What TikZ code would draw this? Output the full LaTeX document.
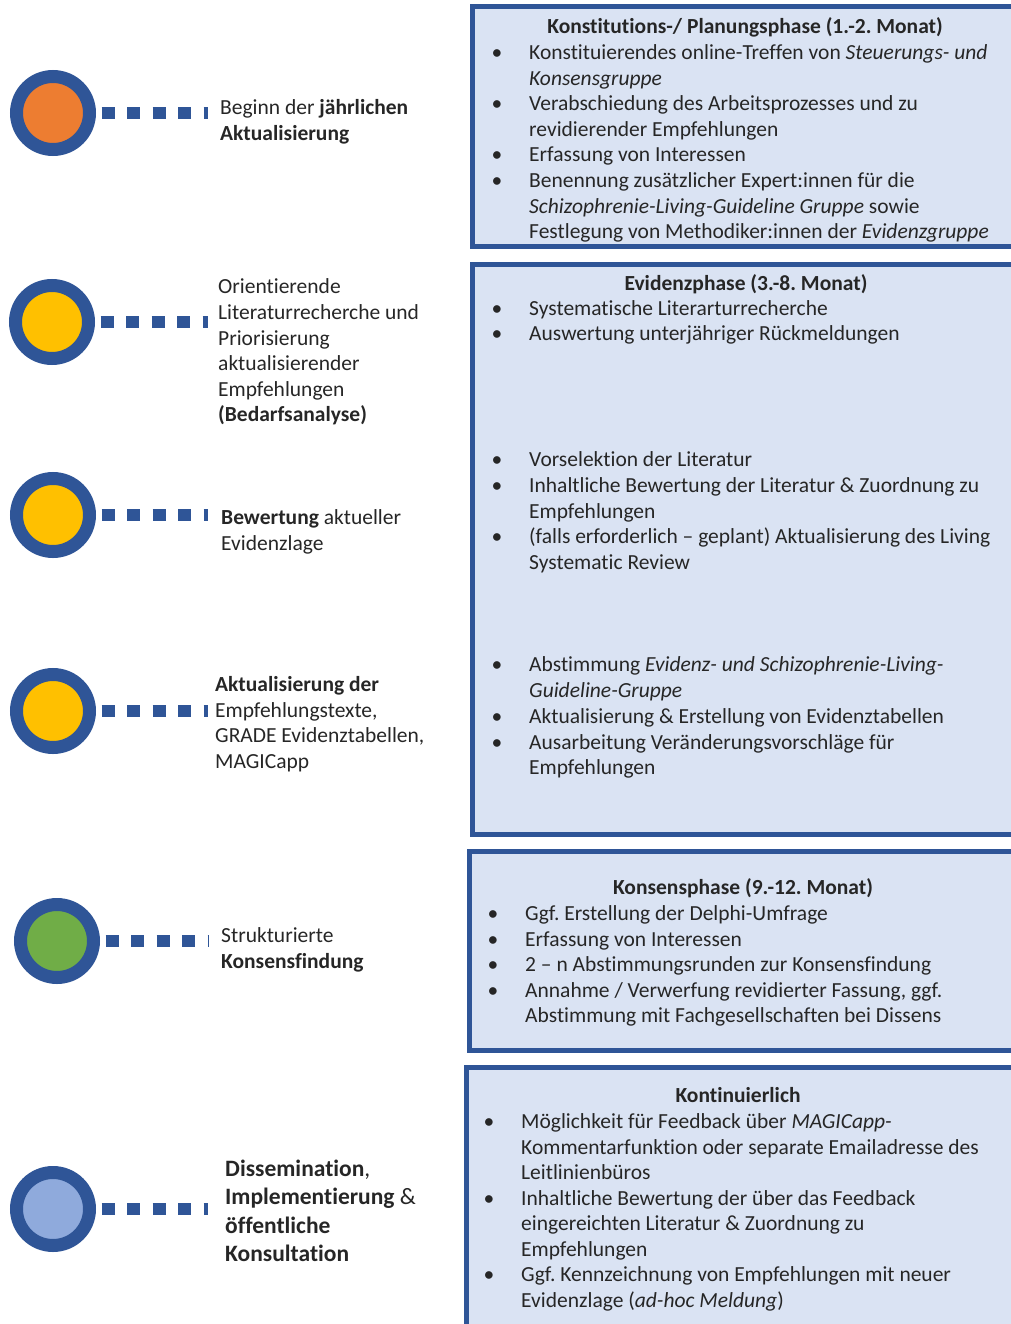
\documentclass[tikz,border=0pt]{standalone}
\usepackage{fontspec}
\setmainfont{Carlito}[Ligatures={NoCommon,NoContextual}]
\frenchspacing
\definecolor{dblue}{HTML}{2F5597}
\definecolor{boxfill}{HTML}{DAE3F3}
\definecolor{corange}{HTML}{ED7D31}
\definecolor{cyellow}{HTML}{FFC000}
\definecolor{cgreen}{HTML}{70AD47}
\definecolor{clblue}{HTML}{8FAADC}
\definecolor{txtc}{HTML}{262626}
\tikzset{
 phase/.style={draw=dblue, line width=5pt, fill=boxfill},
 ring/.style={circle, draw=dblue, line width=13pt, minimum size=73pt, inner sep=0pt},
 conn/.style={draw=dblue, line width=12pt, dash pattern=on 13pt off 12.5pt, shorten <=5.5pt},
 tx/.style={anchor=base west, inner sep=0pt, yshift=-3pt, text=txtc, font=\fontsize{21.5pt}{25.6pt}\selectfont},
 ttl/.style={tx, anchor=base, font=\fontsize{21.5pt}{25.6pt}\selectfont\bfseries},
 bul/.style={tx, anchor=base},
 big/.style={tx, font=\fontsize{23.5pt}{28.5pt}\selectfont},
}
\begin{document}
\begin{tikzpicture}[x=1pt,y=-1pt]
\useasboundingbox (0,0) rectangle (1011,1324);
\clip (0,0) rectangle (1011,1324);
% phase boxes
\path[phase] (472,7) rectangle (1040,247);
\path[phase] (472,264) rectangle (1040,834);
\path[phase] (469,851) rectangle (1040,1050);
\path[phase] (466,1067) rectangle (1040,1340);
% circles
\node[ring, fill=corange] (c1) at (53,113) {};
\node[ring, fill=cyellow] (c2) at (52,322) {};
\node[ring, fill=cyellow] (c3) at (53,515) {};
\node[ring, fill=cyellow] (c4) at (53,711) {};
\node[ring, fill=cgreen] (c5) at (57,941) {};
\node[ring, fill=clblue] (c6) at (53,1209) {};
% connector ends
\coordinate (e1) at (208,113);
\coordinate (e2) at (208,322);
\coordinate (e3) at (208,515);
\coordinate (e4) at (208,711);
\coordinate (e5) at (208,941);
\coordinate (e6) at (208,1209);
\foreach \i in {1,...,6}{\draw[conn] (c\i.east) -- (e\i);}
% left labels
\node[tx] (l1a) at (220,112) {Beginn der \textbf{jährlichen}};
\node[tx] (l1b) at (220,138) {\textbf{Aktualisierung}};
\node[tx] (l2a) at (218,290) {Orientierende};
\node[tx] (l2b) at (218,316) {Literaturrecherche und};
\node[tx] (l2c) at (218,342) {Priorisierung};
\node[tx] (l2d) at (218,367) {aktualisierender};
\node[tx] (l2e) at (218,393) {Empfehlungen};
\node[tx] (l2f) at (218,418) {\textbf{(Bedarfsanalyse)}};
\node[tx] (l3a) at (221,521) {\textbf{Bewertung} aktueller};
\node[tx] (l3b) at (221,547) {Evidenzlage};
\node[tx] (l4a) at (215,688) {\textbf{Aktualisierung der}};
\node[tx] (l4b) at (215,714) {Empfehlungstexte,};
\node[tx] (l4c) at (215,739) {GRADE Evidenztabellen,};
\node[tx] (l4d) at (215,765) {MAGICapp};
\node[tx] (l5a) at (221,939) {Strukturierte};
\node[tx] (l5b) at (221,965) {\textbf{Konsensfindung}};
\node[big] (l6a) at (225,1173) {\textbf{Dissemination},};
\node[big] (l6b) at (225,1201) {\textbf{Implementierung} \&};
\node[big] (l6c) at (225,1230) {\textbf{öffentliche}};
\node[big] (l6d) at (225,1258) {\textbf{Konsultation}};
% box 1
\node[ttl] (b1t) at (745,31) {Konstitutions-/ Planungsphase (1.-2. Monat)};
\node[bul] (b1u1) at (497,56.6) {•};
\node[tx] (b1a) at (529,56.6) {Konstituierendes online-Treffen von \textit{Steuerungs- und}};
\node[tx] (b1b) at (529,82.2) {\textit{Konsensgruppe}};
\node[bul] (b1u2) at (497,107.8) {•};
\node[tx] (b1c) at (529,107.8) {Verabschiedung des Arbeitsprozesses und zu};
\node[tx] (b1d) at (529,133.4) {revidierender Empfehlungen};
\node[bul] (b1u3) at (497,159) {•};
\node[tx] (b1e) at (529,159) {Erfassung von Interessen};
\node[bul] (b1u4) at (497,184.6) {•};
\node[tx] (b1f) at (529,184.6) {Benennung zusätzlicher Expert:innen für die};
\node[tx] (b1g) at (529,210.2) {\textit{Schizophrenie-Living-Guideline Gruppe} sowie};
\node[tx] (b1h) at (529,235.8) {Festlegung von Methodiker:innen der \textit{Evidenzgruppe}};
% box 2
\node[ttl] (b2t) at (746,287) {Evidenzphase (3.-8. Monat)};
\node[bul] (b2u1) at (497,312) {•};
\node[tx] (b2a) at (529,312) {Systematische Literarturrecherche};
\node[bul] (b2u2) at (497,337.5) {•};
\node[tx] (b2b) at (529,337.5) {Auswertung unterjähriger Rückmeldungen};
\node[bul] (b2u3) at (497,463) {•};
\node[tx] (b2c) at (529,463) {Vorselektion der Literatur};
\node[bul] (b2u4) at (497,489) {•};
\node[tx] (b2d) at (529,489) {Inhaltliche Bewertung der Literatur \& Zuordnung zu};
\node[tx] (b2e) at (529,515) {Empfehlungen};
\node[bul] (b2u5) at (497,540) {•};
\node[tx] (b2f) at (529,540) {(falls erforderlich – geplant) Aktualisierung des Living};
\node[tx] (b2g) at (529,566) {Systematic Review};
\node[bul] (b2u6) at (497,668) {•};
\node[tx] (b2h) at (529,668) {Abstimmung \textit{Evidenz- und Schizophrenie-Living-}};
\node[tx] (b2i) at (529,694) {\textit{Guideline-Gruppe}};
\node[bul] (b2u7) at (497,720) {•};
\node[tx] (b2j) at (529,720) {Aktualisierung \& Erstellung von Evidenztabellen};
\node[bul] (b2u8) at (497,746) {•};
\node[tx] (b2k) at (529,746) {Ausarbeitung Veränderungsvorschläge für};
\node[tx] (b2l) at (529,771) {Empfehlungen};
% box 3
\node[ttl] (b3t) at (743,891) {Konsensphase (9.-12. Monat)};
\node[bul] (b3u1) at (493,917) {•};
\node[tx] (b3a) at (525,917) {Ggf. Erstellung der Delphi-Umfrage};
\node[bul] (b3u2) at (493,943) {•};
\node[tx] (b3b) at (525,943) {Erfassung von Interessen};
\node[bul] (b3u3) at (493,968) {•};
\node[tx] (b3c) at (525,968) {2 – n Abstimmungsrunden zur Konsensfindung};
\node[bul] (b3u4) at (493,994) {•};
\node[tx] (b3d) at (525,994) {Annahme / Verwerfung revidierter Fassung, ggf.};
\node[tx] (b3e) at (525,1019) {Abstimmung mit Fachgesellschaften bei Dissens};
% box 4
\node[ttl] (b4t) at (738,1099) {Kontinuierlich};
\node[bul] (b4u1) at (489,1125) {•};
\node[tx] (b4a) at (521,1125) {Möglichkeit für Feedback über \textit{MAGICapp-}};
\node[tx] (b4b) at (521,1151) {Kommentarfunktion oder separate Emailadresse des};
\node[tx] (b4c) at (521,1176) {Leitlinienbüros};
\node[bul] (b4u2) at (489,1202) {•};
\node[tx] (b4d) at (521,1202) {Inhaltliche Bewertung der über das Feedback};
\node[tx] (b4e) at (521,1227) {eingereichten Literatur \& Zuordnung zu};
\node[tx] (b4f) at (521,1253) {Empfehlungen};
\node[bul] (b4u3) at (489,1278) {•};
\node[tx] (b4g) at (521,1278) {Ggf. Kennzeichnung von Empfehlungen mit neuer};
\node[tx] (b4h) at (521,1304) {Evidenzlage (\textit{ad-hoc Meldung})};
\end{tikzpicture}
\end{document}
